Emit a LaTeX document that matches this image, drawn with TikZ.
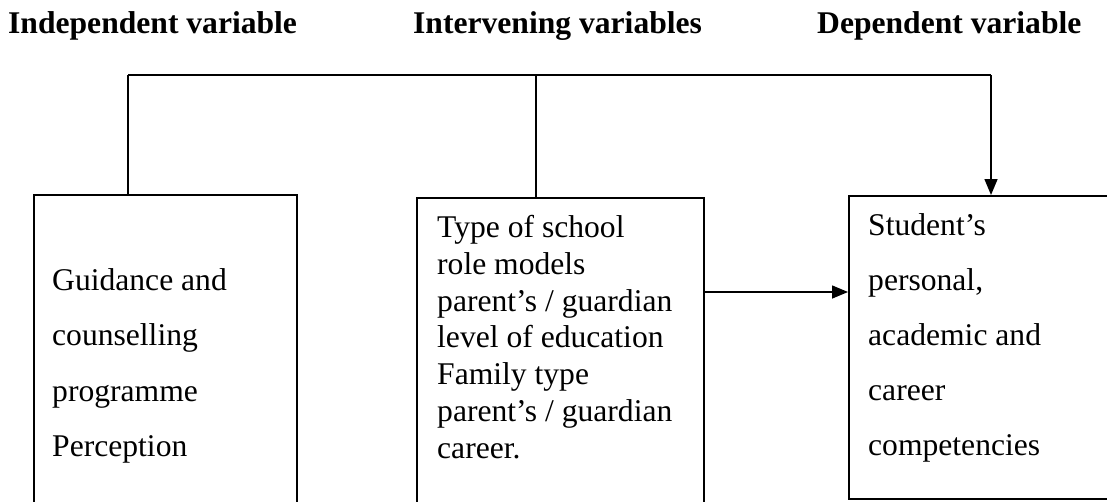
\documentclass[tikz,border=0pt]{standalone}
\usepackage{fontspec}
\setmainfont{Liberation Serif}
\usetikzlibrary{arrows.meta}

\tikzset{
  varbox/.style = {draw, line width=1.5pt, rectangle, anchor=north west, inner sep=0pt},
  boxtext/.style = {anchor=north west, inner sep=0pt, align=left},
  heading/.style = {anchor=base west, inner sep=0pt, font=\fontsize{31.6}{36}\selectfont\bfseries},
  arr/.style = {line width=1.5pt, -{Triangle[length=16pt,width=13pt]}}
}

\begin{document}
\begin{tikzpicture}[x=1pt, y=-1pt]
        \useasboundingbox (0,0) rectangle (1107,501);
        \clip (0,0) rectangle (1107,501);

        \node[heading] (indep) at (8,33) {Independent variable};
        \node[heading] (interv) at (413,33) {Intervening variables};
        \node[heading] (dep) at (817,33) {Dependent variable};

        \node[varbox, minimum width=263pt, minimum height=320pt] (gc) at (33,194) {};
        \node[varbox, minimum width=287pt, minimum height=317pt] (iv) at (416,197) {};
        \node[varbox, minimum width=270pt, minimum height=303pt] (dv) at (848,195) {};

        \node[boxtext, font=\fontsize{31.6}{55.5}\selectfont] (gctext) at (52,268) {Guidance and\\counselling\\programme\\Perception};
        \node[boxtext, font=\fontsize{31.6}{36.8}\selectfont] (ivtext) at (437,215) {Type of school\\role models\\parent’s / guardian\\level of education\\Family type\\parent’s / guardian\\career.};
        \node[boxtext, font=\fontsize{31.6}{55}\selectfont] (dvtext) at (868,213) {Student’s\\personal,\\academic and\\career\\competencies};

        \coordinate (barL) at (128,75);
        \coordinate (barM) at (536,75);
        \coordinate (barR) at (991,75);

        \draw[line width=1.5pt] (barL) -- (barR);
        \draw[line width=1.5pt] (barL) -- (barL |- gc.north);
        \draw[line width=1.2pt] (barM) -- (barM |- iv.north) ;
        \draw[arr] (barR) -- (barR |- dv.north);

        \draw[arr] ([yshift=-95pt]iv.north east) -- ([yshift=-95pt]iv.north east -| dv.west);
    \end{tikzpicture}
\end{document}
